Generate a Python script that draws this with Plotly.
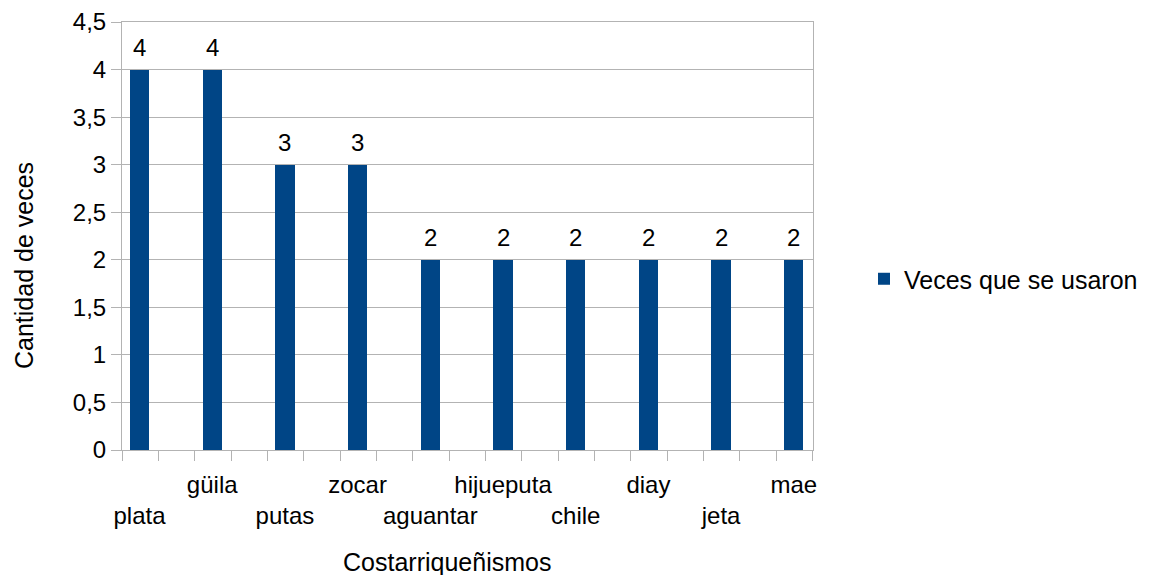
import plotly.graph_objects as go

# Costa Rican slang words and how many times each one was used
categories = ["plata", "güila", "putas", "zocar", "aguantar",
              "hijueputa", "chile", "diay", "jeta", "mae"]
veces = [4, 4, 3, 3, 2, 2, 2, 2, 2, 2]
y_ticks = [0, 0.5, 1, 1.5, 2, 2.5, 3, 3.5, 4, 4.5]

series_name = "Veces que se usaron"
bar_color = "#004586"
grid_color = "#b3b3b3"
font_family = "Liberation Sans, Arial, sans-serif"

positions = list(range(len(categories)))
# stagger the category names on two rows, every other one drops a line
tick_text = [("<br>" + c) if i % 2 == 0 else c for i, c in enumerate(categories)]

fig = go.Figure()
fig.add_trace(go.Bar(
    x=positions,
    y=veces,
    name=series_name,
    marker=dict(color=bar_color, line=dict(width=0)),
    width=0.265,
    showlegend=True,
))

# value labels above each bar
for x, v in zip(positions, veces):
    fig.add_annotation(
        x=x, y=v, text=str(v), showarrow=False,
        xref="x", yref="y", yanchor="bottom", yshift=7,
        font=dict(size=24, color="#000000", family=font_family),
    )

x_lo, x_hi = -0.2408, 9.264

fig.update_layout(
    width=1151, height=575,
    margin=dict(l=122, r=338, t=22, b=125, pad=0, autoexpand=False),
    paper_bgcolor="white", plot_bgcolor="white",
    separators=", ",
    font=dict(family=font_family, size=24, color="#000000"),
    bargap=0,
    legend=dict(
        x=1.0738, y=0.3995, xanchor="left", yanchor="middle",
        font=dict(size=25, color="#000000"),
        bgcolor="rgba(0,0,0,0)",
    ),
    xaxis=dict(
        range=[x_lo, x_hi], automargin=False,
        tickmode="array", tickvals=positions, ticktext=tick_text,
        tickangle=0, ticklabelstandoff=13,
        ticks="", showgrid=False, zeroline=False,
        showline=True, linecolor=grid_color, linewidth=1, mirror=True,
        tickfont=dict(size=24, color="#000000"),
        minor=dict(tick0=x_lo, dtick=0.5, ticks="outside", ticklen=10,
                   tickcolor=grid_color, tickwidth=1, showgrid=False),
        fixedrange=True,
    ),
    yaxis=dict(
        range=[0, 4.5], automargin=False,
        tickmode="array", tickvals=y_ticks,
        ticks="outside", ticklen=10, tickcolor=grid_color, tickwidth=1,
        showgrid=True, gridcolor=grid_color, gridwidth=1,
        zeroline=False,
        showline=True, linecolor=grid_color, linewidth=1, mirror=True,
        tickfont=dict(size=24, color="#000000"),
        fixedrange=True,
    ),
)

# axis titles
fig.add_annotation(
    text="Costarriqueñismos", xref="paper", yref="paper",
    x=(447 - 122) / 691, y=(450 - 562) / 428,
    xanchor="center", yanchor="middle", showarrow=False,
    font=dict(size=25, color="#000000"),
)
fig.add_annotation(
    text="Cantidad de veces", xref="paper", yref="paper",
    x=(24 - 122) / 691, y=(450 - 266) / 428, textangle=-90,
    xanchor="center", yanchor="middle", showarrow=False,
    font=dict(size=25, color="#000000"),
)

fig.write_html("out.html")
